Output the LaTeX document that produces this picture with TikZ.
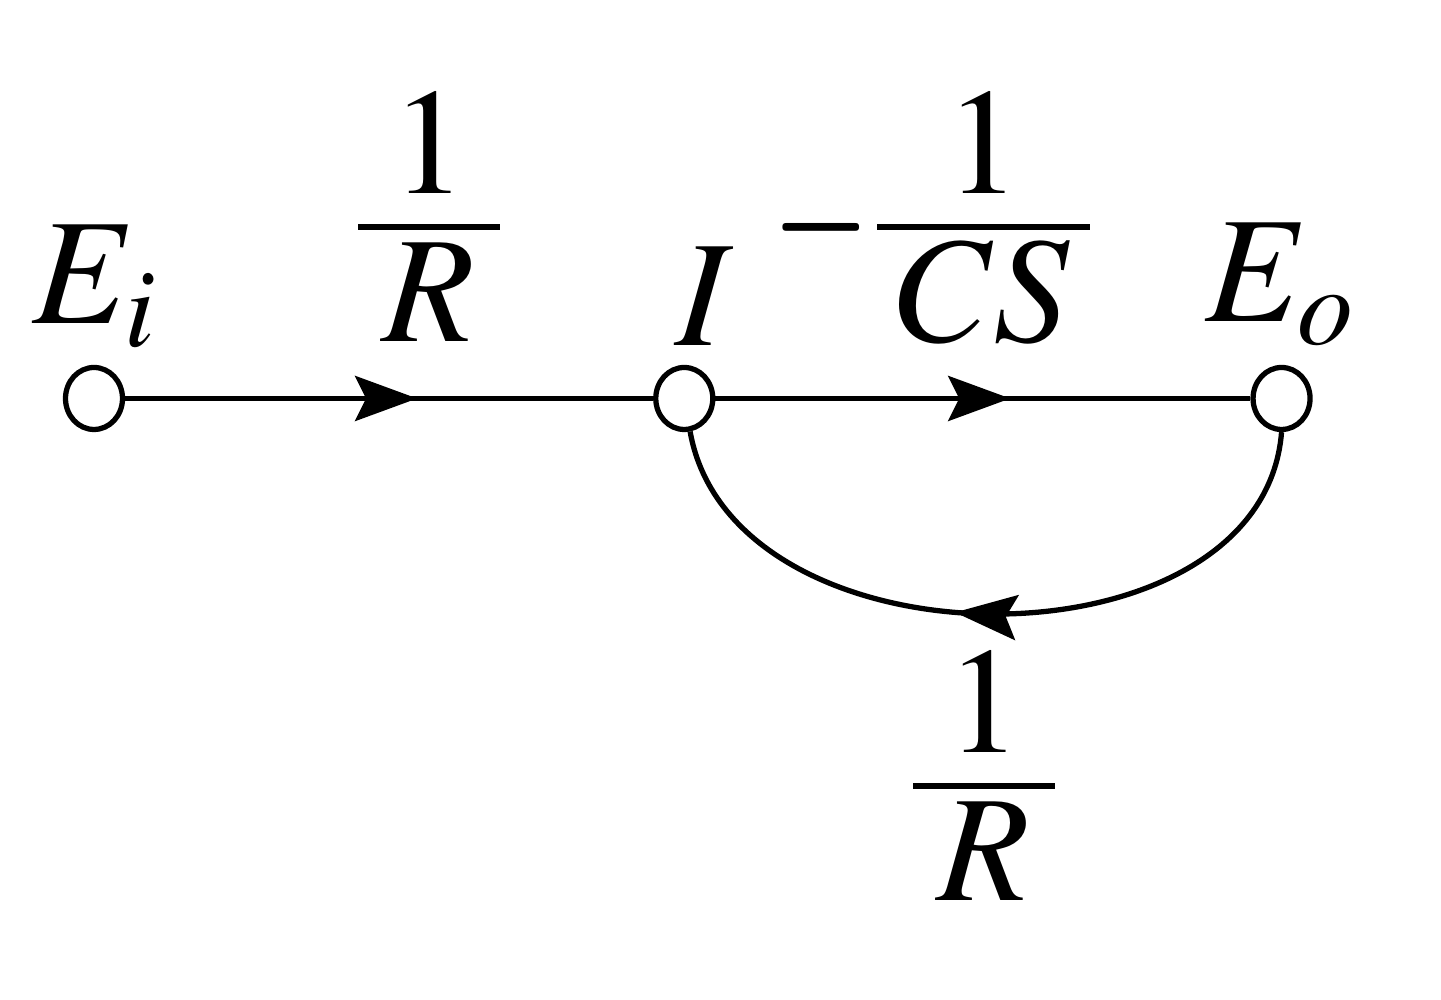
\documentclass[tikz,border=0pt]{standalone}
\usepackage{amsmath}
\usepackage{mathptmx}
\usetikzlibrary{positioning}
\usetikzlibrary{arrows.meta}
\usetikzlibrary{shapes.geometric}
\usetikzlibrary{decorations.markings}

\begin{document}
\begin{tikzpicture}[
                          signode/.style={ellipse, draw, fill=white, line width=1.5pt, minimum width=5.7mm, minimum height=6.2mm, inner sep=0pt},
                          gainlabel/.style={font=\fontsize{43}{52}\selectfont, inner sep=0pt, anchor=base},
                          branch/.style={line width=1.5pt, postaction={decorate},
                                         decoration={markings, mark=at position #1 with {\arrow{Stealth[length=6.2mm, width=4.5mm, inset=1.1mm]}}}},
                          branch/.default=0.55,
                      ]
                      \useasboundingbox (0,0) rectangle (14.41,10);
                      % Nodes
                      \node[signode]        (Ei)                              at (0.94,6.015) {};
                      \node[signode]        (I)     [right=5.28cm of Ei]                      {};
                      \node[signode]        (Eo)    [right=5.35cm of I]                       {};

                      \node[gainlabel]      (Ei_lbl)                          at (0.95,6.76)  {$E_i$};
                      \node[gainlabel]      (I_lbl)                           at (7.05,6.54)  {$I$};
                      \node[gainlabel]      (Eo_lbl)                          at (12.80,6.78) {$E_o$};

                      \node[gainlabel]      (g_Ei_I)                          at (4.29,7.354) {$\dfrac{\raisebox{-9pt}[\height][0pt]{$1$}}{\makebox[1.42cm]{\raisebox{7.5pt}[0pt][0pt]{$R$}}}$};
                      \node[gainlabel, anchor=base east] (g_I_Eo)             at (10.95,7.354) {$\raisebox{-3.3pt}{\scalebox{0.83}[1.3]{$-$}}\hspace{0.8pt}\dfrac{\raisebox{-9pt}[\height][0pt]{$1$}}{\makebox[2.13cm]{\raisebox{7.5pt}[0pt][0pt]{$CS$}}}$};
                      \node[gainlabel]      (g_Eo_I)                          at (9.84,1.764) {$\dfrac{\raisebox{-9pt}[\height][0pt]{$1$}}{\makebox[1.42cm]{\raisebox{7.5pt}[0pt][0pt]{$R$}}}$};

                      %Lines
                      \draw[branch=0.553] (Ei) -- (I);
                      \draw[branch=0.551] (I) -- (Eo);
                      \draw[branch=0.545] (Eo.south) .. controls +(-0.19,-2.43) and +(0.43,-2.43) .. (I.-80);
                  \end{tikzpicture}
\end{document}
